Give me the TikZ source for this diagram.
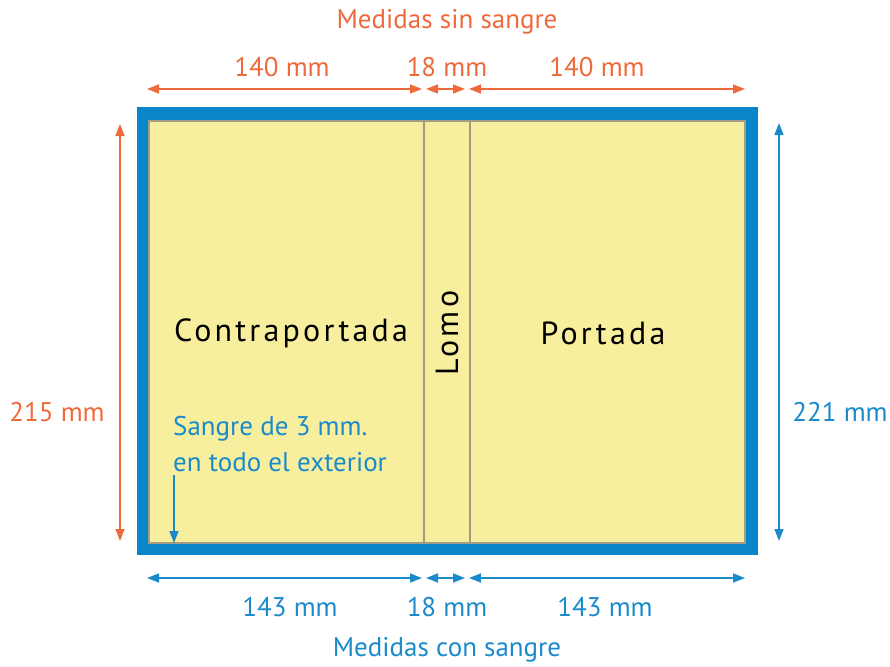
\documentclass[tikz,border=0pt]{standalone}
\usepackage{fontspec}
\setmainfont{PT Sans}
\usetikzlibrary{arrows.meta}
\definecolor{orng}{HTML}{EE6A3C}
\definecolor{blu}{HTML}{1A8ACB}
\definecolor{bord}{HTML}{0886C8}
\definecolor{yel}{HTML}{F8EF9E}
\definecolor{trim}{HTML}{A39B84}
\tikzset{
  dimo/.style={draw=orng, line width=1.5pt, {Triangle[length=12pt,width=9pt]}-{Triangle[length=12pt,width=9pt]}},
  dimb/.style={draw=blu, line width=1.5pt, {Triangle[length=12pt,width=9pt]}-{Triangle[length=12pt,width=9pt]}},
  lblo/.style={text=orng, font=\fontsize{27}{32}\selectfont, inner sep=0pt},
  lblb/.style={text=blu, font=\fontsize{27}{32}\selectfont, inner sep=0pt},
  big/.style={text=black, font=\fontsize{32}{38}\selectfont\addfontfeatures{LetterSpace=10}, inner sep=0pt},
}
\begin{document}
\begin{tikzpicture}[x=1pt,y=-1pt]
\useasboundingbox (0,0) rectangle (890,666);
% cover
\fill[bord] (137,107) rectangle (758,555);
\fill[yel, draw=trim, line width=1.2pt] (149,121) rectangle (745,543);
\draw[trim, line width=1.4pt] (424,121) -- (424,543);
\draw[trim, line width=1.4pt] (470,121) -- (470,543);
% big labels
\node[big] (contra) at (291,333) {Contraportada};
\node[big] (port) at (603,333) {Portada};
\node[big, rotate=90] (lomo) at (447,333) {Lomo};
% bleed note
\node[lblb, anchor=west] (s1) at (173,429) {Sangre de 3 mm.};
\node[lblb, anchor=west] (s2) at (173,462) {en todo el exterior};
\coordinate (sa) at (174,475);
\coordinate (sb) at (174,543);
\draw[draw=blu, line width=1.4pt, -{Triangle[length=12pt,width=9pt]}] (sa) -- (sb);
% top dims
\coordinate (t1) at (147,89); \coordinate (t2) at (422,89);
\coordinate (t3) at (426,89); \coordinate (t4) at (465,89);
\coordinate (t5) at (469,89); \coordinate (t6) at (745,89);
\draw[dimo] (t1) -- (t2);
\draw[dimo] (t3) -- (t4);
\draw[dimo] (t5) -- (t6);
\node[lblo] (top) at (447,22) {Medidas sin sangre};
\node[lblo] (ta) at (282,67) {140 mm};
\node[lblo] (tb) at (447,67) {18 mm};
\node[lblo] (tc) at (597,67) {140 mm};
% bottom dims
\coordinate (b1) at (147,578); \coordinate (b2) at (422,578);
\coordinate (b3) at (426,578); \coordinate (b4) at (465,578);
\coordinate (b5) at (469,578); \coordinate (b6) at (745,578);
\draw[dimb] (b1) -- (b2);
\draw[dimb] (b3) -- (b4);
\draw[dimb] (b5) -- (b6);
\node[lblb] (bot) at (447,650) {Medidas con sangre};
\node[lblb] (ba) at (290,607) {143 mm};
\node[lblb] (bb) at (447,607) {18 mm};
\node[lblb] (bc) at (605,607) {143 mm};
% side dims
\coordinate (l1) at (120,124); \coordinate (l2) at (120,541);
\draw[dimo] (l1) -- (l2);
\node[lblo] (lh) at (57,412) {215 mm};
\coordinate (r1) at (779,123); \coordinate (r2) at (779,541);
\draw[dimb] (r1) -- (r2);
\node[lblb] (rh) at (840,412) {221 mm};
\end{tikzpicture}
\end{document}
